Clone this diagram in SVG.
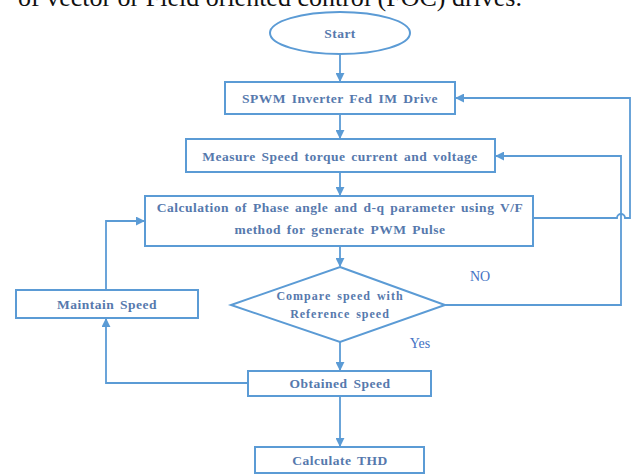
<svg xmlns="http://www.w3.org/2000/svg" width="631" height="475" viewBox="0 0 631 475">
<style>
.box{fill:#ffffff;stroke:#5b9bd5;stroke-width:2}
.ln{fill:none;stroke:#5b9bd5;stroke-width:1.8}
.t{font-family:"Liberation Serif",serif;font-size:13.5px;font-weight:bold;fill:#5679ad;text-anchor:middle;letter-spacing:0.5px;word-spacing:2px}
.lbl{font-family:"Liberation Serif",serif;font-size:14px;fill:#4472c4;text-anchor:middle}
.cap{font-family:"Liberation Serif",serif;font-size:26px;fill:#111111}
</style>
<defs>
<marker id="ah" viewBox="0 0 10 10" refX="9" refY="5" markerWidth="5" markerHeight="5" orient="auto-start-reverse">
<path d="M0,0 L10,5 L0,10 z" fill="#5b9bd5"/>
</marker>
</defs>
<text class="cap" x="18" y="6">of vector or Field oriented control (FOC) drives.</text>
<g id="connectors">
<line class="ln" x1="340" y1="55" x2="340" y2="81" marker-end="url(#ah)"/>
<line class="ln" x1="340" y1="114" x2="340" y2="138" marker-end="url(#ah)"/>
<line class="ln" x1="340" y1="172" x2="340" y2="195" marker-end="url(#ah)"/>
<line class="ln" x1="340" y1="246" x2="340" y2="266" marker-end="url(#ah)"/>
<line class="ln" x1="340" y1="342" x2="340" y2="370" marker-end="url(#ah)"/>
<line class="ln" x1="340" y1="396" x2="340" y2="446" marker-end="url(#ah)"/>
<polyline class="ln" points="248,383 106,383 106,319" marker-end="url(#ah)"/>
<polyline class="ln" points="106,290 106,221 144,221" marker-end="url(#ah)"/>
<polyline class="ln" points="445,305 621,305 621,156 496,156" marker-end="url(#ah)"/>
<path class="ln" d="M533,218 L617,218 A4,4 0 0 1 625,218 L630,218 L630,98 L456,98" marker-end="url(#ah)"/>
</g>
<g id="start">
<ellipse class="box" cx="340" cy="33" rx="70" ry="21"/>
<text class="t" x="340" y="38">Start</text>
</g>
<g id="spwm">
<rect class="box" x="225" y="82" width="230" height="32"/>
<text class="t" x="340" y="103">SPWM Inverter Fed IM Drive</text>
</g>
<g id="measure">
<rect class="box" x="186" y="139" width="309" height="33"/>
<text class="t" x="340" y="161">Measure Speed torque current and voltage</text>
</g>
<g id="calc">
<rect class="box" x="145" y="196" width="388" height="50"/>
<text class="t" x="340" y="212">Calculation of Phase angle and d-q parameter using V/F</text>
<text class="t" x="340" y="234">method for generate PWM Pulse</text>
</g>
<g id="compare">
<polygon class="box" points="340,267 445,305 340,342 231,305"/>
<text class="t" x="340" y="300" style="font-size:12px;letter-spacing:1px">Compare speed with</text>
<text class="t" x="340" y="318" style="font-size:12px;letter-spacing:1px">Reference speed</text>
</g>
<text class="lbl" x="480" y="281">NO</text>
<text class="lbl" x="420" y="348">Yes</text>
<g id="maintain">
<rect class="box" x="16" y="290" width="182" height="28"/>
<text class="t" x="107" y="309">Maintain Speed</text>
</g>
<g id="obtained">
<rect class="box" x="248" y="371" width="183" height="25"/>
<text class="t" x="340" y="388">Obtained Speed</text>
</g>
<g id="thd">
<rect class="box" x="255" y="447" width="169" height="26"/>
<text class="t" x="340" y="465">Calculate THD</text>
</g>
</svg>
